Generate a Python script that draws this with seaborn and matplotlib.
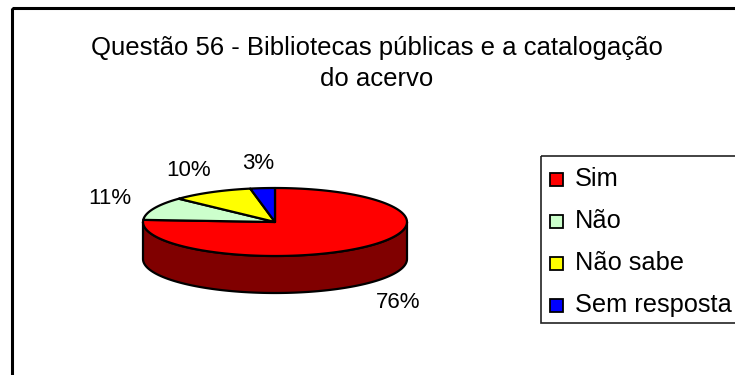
import numpy as np
import matplotlib
matplotlib.use("Agg")
import matplotlib.pyplot as plt
import seaborn as sns
from matplotlib.patches import Polygon, Rectangle

# Survey answers and their shares (%)
categories = ["Sim", "Não", "Não sabe", "Sem resposta"]
percent = [76, 11, 10, 3]
pct_labels = ["76%", "11%", "10%", "3%"]
top_colors = ["#FF0000", "#CCFFCC", "#FFFF00", "#0000FF"]
side_colors = ["#800000", "#669966", "#808000", "#000080"]
title = "Questão 56 - Bibliotecas públicas e a catalogação\ndo acervo"

sns.set_theme(style="white")
plt.rcParams["font.family"] = ["Liberation Sans", "DejaVu Sans"]

W, H = 735, 375
fig = plt.figure(figsize=(W / 100, H / 100), dpi=100)
ax = fig.add_axes([0, 0, 1, 1])
ax.set_xlim(0, W)
ax.set_ylim(H, 0)
ax.axis("off")

# chart frame
ax.add_patch(Rectangle((12.5, 7.5), 800, 500, fill=False, ec="black", lw=2.2, zorder=1))

# 3D pie geometry (pixel space, y pointing down)
cx, cy, a, b, depth = 275, 222, 132, 34, 37


def arc(t0, t1, n=120, dy=0.0):
    t = np.radians(np.linspace(t0, t1, n))
    return np.column_stack([cx + a * np.cos(t), cy - b * np.sin(t) + dy])


vals = np.asarray(percent, dtype=float)
frac = vals / vals.sum()
cum = np.concatenate([[0], np.cumsum(frac)])
starts = 90 - cum[:-1] * 360
ends = 90 - cum[1:] * 360

# front walls (visible where the rim faces the viewer: -180..0 deg)
for s, e, sc in zip(starts, ends, side_colors):
    for k in (-1, 0, 1):
        lo, hi = max(e, -180 + 360 * k), min(s, 0 + 360 * k)
        if hi > lo:
            top = arc(hi, lo)
            bot = arc(lo, hi, dy=depth)
            ax.add_patch(Polygon(np.vstack([top, bot]), closed=True, fc=sc,
                                 ec="black", lw=1.6, joinstyle="round", zorder=2))

# top faces
for s, e, tc in zip(starts, ends, top_colors):
    pts = np.vstack([[cx, cy], arc(s, e)])
    ax.add_patch(Polygon(pts, closed=True, fc=tc, ec="black", lw=1.6,
                         joinstyle="round", zorder=3))

# percentage labels just outside the rim of each slice
gx, gy = 48, 25
for s, e, lab in zip(starts, ends, pct_labels):
    m = np.radians((s + e) / 2)
    c, sn = np.cos(m), np.sin(m)
    x = cx + (a + gx) * c
    y = cy - (b + gy) * sn + (depth if sn < 0 else 0)
    ax.text(x, y, lab, ha="center", va="center", fontsize=16, color="black", zorder=4)

# title
ax.text(377, 63.5, title, ha="center", va="center", fontsize=18.5, linespacing=1.4,
        color="black", zorder=4)

# legend box
ax.add_patch(Rectangle((541, 156), 300, 167, fill=False, ec="#222222", lw=1.2, zorder=1))
ys = 179 + 42 * np.arange(len(categories))
for yy, cat, tc in zip(ys, categories, top_colors):
    ax.add_patch(Rectangle((550.5, yy - 6.5), 13, 13, fc=tc, ec="black", lw=1.3, zorder=4))
    ax.text(575, yy, cat, ha="left", va="center", fontsize=18.3, color="black", zorder=4)

fig.savefig("out.png", dpi=100, facecolor="white")
